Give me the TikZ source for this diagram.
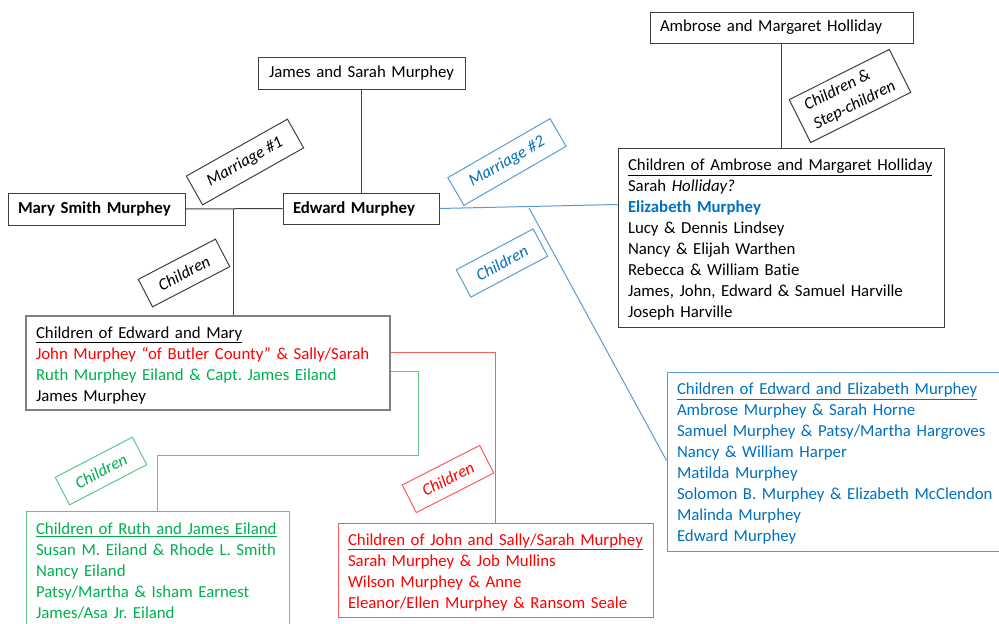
\documentclass[tikz,border=0pt]{standalone}
\usepackage{fontspec}
\setmainfont{Carlito}[Ligatures=NoCommon]
\definecolor{tblue}{HTML}{0070C0}
\definecolor{lblue}{HTML}{5B9BD5}
\definecolor{tred}{HTML}{FF0000}
\definecolor{lred}{HTML}{FF5B5B}
\definecolor{tgreen}{HTML}{00B050}
\definecolor{lgreen}{HTML}{5CC88A}
\definecolor{dline}{HTML}{404040}
\definecolor{gline}{HTML}{7F7F7F}
\newcommand{\myfs}{\fontsize{16.8}{21}\selectfont\frenchspacing}
\newcommand{\ml}[1]{\mbox{#1}}
\newcommand{\tstr}{\rule{0pt}{16.5pt}}
\begin{document}
\begin{tikzpicture}[x=1pt,y=-1pt,
  every node/.style={font=\myfs, inner sep=0pt},
  box/.style={draw=dline, line width=1pt, fill=white, inner xsep=10pt, align=left},
  lbl/.style={draw=dline, line width=1pt, fill=white, font=\myfs\itshape, minimum width=87pt, minimum height=31pt, align=center},
  conn/.style={draw=dline, line width=1pt}]
\useasboundingbox (0,0) rectangle (999,624);
\clip (0,0) rectangle (999,624);
\fill[white] (0,0) rectangle (999,624);

% people boxes
\node[box, minimum height=32pt, text width=187pt, align=center] (JS) at (361.5,73) {\ml{James and Sarah Murphey}};
\node[box, minimum height=32pt, text width=157pt, font=\myfs\bfseries] (Mary) at (96.5,209) {\ml{Mary Smith Murphey}};
\node[box, minimum height=31pt, text width=136pt, font=\myfs\bfseries] (Ed) at (361,208.5) {\ml{Edward Murphey}};
\node[box, minimum height=31pt, text width=243pt] (AM) at (781.5,27.5) {\ml{Ambrose and Margaret Holliday}};

% children boxes
\node[box, minimum height=179pt, text width=306pt] (AC) at (781,237.5) {\tstr\ml{\underline{Children of Ambrose and Margaret Holliday}}\\
\ml{Sarah \textit{Holliday?}}\\
\ml{\textcolor{tblue}{\textbf{Elizabeth Murphey}}}\\
\ml{Lucy \& Dennis Lindsey}\\
\ml{Nancy \& Elijah Warthen}\\
\ml{Rebecca \& William Batie}\\
\ml{James, John, Edward \& Samuel Harville}\\
\ml{Joseph Harville}};

\node[box, draw=gline, line width=1.3pt, minimum height=94pt, text width=344pt] (EM) at (208,363) {\tstr\ml{\underline{Children of Edward and Mary}}\\
\ml{\textcolor{tred}{John Murphey “of Butler County” \& Sally/Sarah}}\\
\ml{\textcolor{tgreen}{Ruth Murphey Eiland \& Capt. James Eiland}}\\
\ml{James Murphey}};

\node[box, draw=lblue, text=tblue, minimum height=179pt, text width=315pt] (EE) at (834.5,461.5) {\tstr\ml{\underline{Children of Edward and Elizabeth Murphey}}\\
\ml{Ambrose Murphey \& Sarah Horne}\\
\ml{Samuel Murphey \& Patsy/Martha Hargroves}\\
\ml{Nancy \& William Harper}\\
\ml{Matilda Murphey}\\
\ml{Solomon B. Murphey \& Elizabeth McClendon}\\
\ml{Malinda Murphey}\\
\ml{Edward Murphey}};

\node[box, draw=lred, text=tred, minimum height=94pt, text width=295pt] (JC) at (495.5,570) {\tstr\ml{\underline{Children of John and Sally/Sarah Murphey}}\\
\ml{Sarah Murphey \& Job Mullins}\\
\ml{Wilson Murphey \& Anne}\\
\ml{Eleanor/Ellen Murphey \& Ransom Seale}};

\node[box, draw=lgreen, text=tgreen, minimum height=115pt, text width=243pt] (RE) at (157.5,568.5) {\tstr\ml{\underline{Children of Ruth and James Eiland}}\\
\ml{Susan M. Eiland \& Rhode L. Smith}\\
\ml{Nancy Eiland}\\
\ml{Patsy/Martha \& Isham Earnest}\\
\ml{James/Asa Jr. Eiland}};

% connectors
\draw[conn] (JS.south) -- (JS.south |- Ed.north);
\draw[conn] (Mary.east) -- (Ed.west);
\coordinate (J1) at (233,209);
\draw[conn] (J1) -- (J1 |- EM.north);
\draw[conn] (AM.south) -- (AM.south |- AC.north);
\draw[lblue, line width=1pt] (Ed.east) -- ([yshift=-57pt]AC.north west);
\coordinate (B1) at (529,208);
\draw[lblue, line width=1pt] (B1) -- ([yshift=-89pt]EE.north west);
\draw[lred, line width=1pt] ([yshift=-37pt]EM.north east) -| (JC.north);
\coordinate (G1) at (418.5,455);
\draw[lgreen, line width=1pt] ([yshift=-56pt]EM.north east) -| (G1) -| (RE.north);

% labels
\node[lbl, rotate=29.4, minimum width=116pt, minimum height=33pt] (M1) at (245,162) {Marriage \#1};
\node[lbl, draw=lblue, text=tblue, rotate=30, minimum width=118pt, minimum height=32pt] (M2) at (507,162) {Marriage \#2};
\node[lbl, rotate=26.6, minimum width=112pt, minimum height=48pt, align=left] (SC) at (850,96) {Children \&\\Step-children};
\node[lbl, rotate=27.5] (C1) at (184,273) {Children};
\node[lbl, draw=lblue, text=tblue, rotate=28] (C2) at (502,263) {Children};
\node[lbl, draw=lgreen, text=tgreen, rotate=27.5] (C3) at (101,471) {Children};
\node[lbl, draw=lred, text=tred, rotate=27] (C4) at (448,479) {Children};
\end{tikzpicture}
\end{document}
